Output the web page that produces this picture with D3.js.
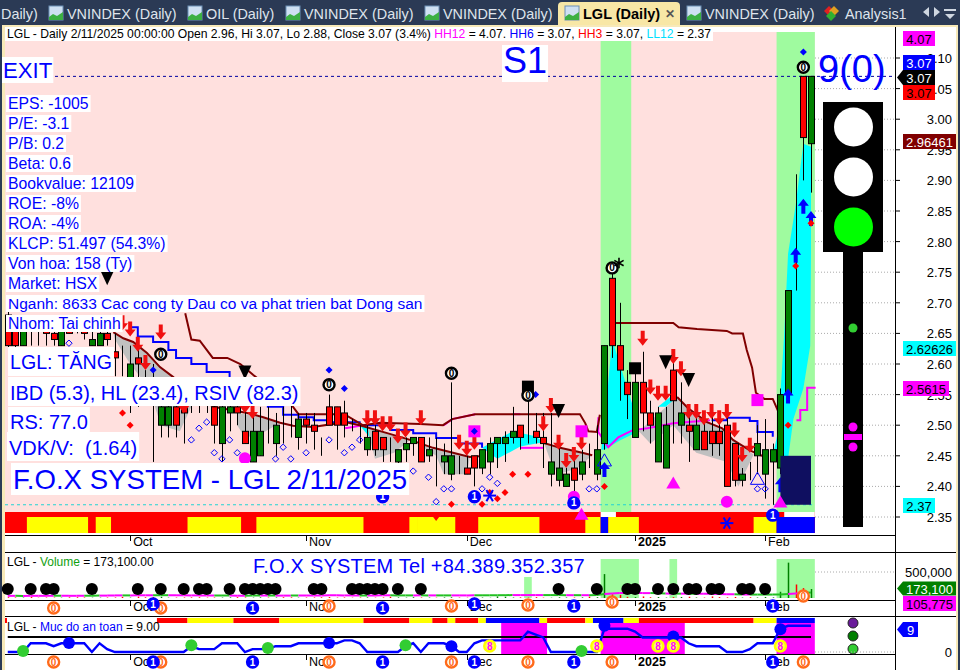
<!DOCTYPE html>
<html><head><meta charset="utf-8">
<style>html,body{margin:0;padding:0;background:#2b3a55;overflow:hidden}svg{display:block}text{font-family:"Liberation Sans",Arial,sans-serif;white-space:pre}</style>
<script src="https://cdn.jsdelivr.net/npm/d3@7"></script></head><body><svg id="c" width="960" height="670"></svg>
<script>
// ---- candles (oldest to newest)
const opens=[2.68,2.67,2.63,2.65,2.65,2.66,2.65,2.63,2.66,2.66,2.66,2.63,2.63,2.65,2.62,2.62,2.54,2.61,2.57,2.58,2.50,2.50,2.53,2.53,2.53,2.53,2.53,2.53,2.47,2.52,2.53,2.49,2.44,2.45,2.49,2.47,2.49,2.51,2.48,2.51,2.50,2.47,2.53,2.53,2.52,2.50,2.49,2.46,2.49,2.48,2.46,2.44,2.46,2.47,2.48,2.45,2.46,2.44,2.42,2.44,2.43,2.45,2.43,2.44,2.47,2.47,2.48,2.50,2.50,2.49,2.48,2.42,2.41,2.40,2.43,2.42,2.45,2.42,2.47,2.74,2.63,2.57,2.48,2.57,2.52,2.44,2.43,2.59,2.50,2.50,2.46,2.49,2.49,2.49,2.50,2.47,2.41,2.44,2.45,2.42,2.44,2.43,2.55,2.91,3.07,2.96];
const highs=[2.70,2.68,2.68,2.68,2.68,2.67,2.68,2.67,2.68,2.67,2.68,2.66,2.67,2.67,2.65,2.63,2.63,2.63,2.59,2.60,2.55,2.54,2.57,2.55,2.54,2.54,2.54,2.55,2.54,2.54,2.54,2.53,2.53,2.53,2.53,2.52,2.53,2.54,2.52,2.52,2.52,2.48,2.55,2.53,2.54,2.51,2.50,2.50,2.50,2.48,2.48,2.46,2.48,2.48,2.48,2.48,2.48,2.47,2.57,2.45,2.45,2.45,2.46,2.48,2.48,2.49,2.53,2.50,2.55,2.52,2.52,2.52,2.47,2.43,2.46,2.46,2.47,2.50,2.63,2.75,2.70,2.59,2.59,2.62,2.54,2.53,2.53,2.62,2.57,2.53,2.52,2.51,2.52,2.51,2.53,2.47,2.43,2.44,2.50,2.51,2.47,2.56,2.72,2.91,3.07,3.07];
const lows=[2.62,2.62,2.63,2.63,2.63,2.63,2.63,2.63,2.65,2.65,2.64,2.63,2.63,2.63,2.58,2.58,2.52,2.53,2.55,2.44,2.48,2.48,2.48,2.47,2.52,2.52,2.52,2.47,2.44,2.49,2.50,2.47,2.44,2.45,2.47,2.45,2.47,2.48,2.46,2.47,2.46,2.45,2.50,2.46,2.48,2.49,2.47,2.45,2.45,2.44,2.44,2.43,2.44,2.45,2.44,2.44,2.40,2.42,2.41,2.42,2.42,2.40,2.42,2.42,2.43,2.44,2.47,2.46,2.47,2.47,2.43,2.40,2.40,2.40,2.39,2.41,2.43,2.41,2.46,2.61,2.54,2.51,2.48,2.49,2.47,2.44,2.43,2.47,2.47,2.44,2.46,2.46,2.45,2.45,2.40,2.40,2.40,2.41,2.42,2.38,2.37,2.42,2.54,2.72,2.90,2.88];
const closes=[2.63,2.63,2.67,2.65,2.65,2.65,2.64,2.66,2.65,2.66,2.65,2.64,2.65,2.64,2.61,2.62,2.60,2.60,2.57,2.58,2.53,2.53,2.50,2.52,2.53,2.53,2.53,2.50,2.53,2.53,2.52,2.47,2.49,2.49,2.49,2.50,2.49,2.51,2.51,2.50,2.49,2.47,2.50,2.50,2.50,2.50,2.49,2.48,2.46,2.46,2.46,2.46,2.47,2.48,2.44,2.46,2.46,2.45,2.45,2.44,2.42,2.43,2.46,2.47,2.48,2.48,2.49,2.48,2.50,2.48,2.47,2.44,2.43,2.42,2.41,2.44,2.45,2.46,2.63,2.63,2.59,2.55,2.57,2.52,2.50,2.52,2.50,2.54,2.52,2.49,2.50,2.46,2.47,2.47,2.40,2.41,2.42,2.44,2.47,2.46,2.46,2.55,2.72,2.91,2.97,3.07];
// ---- volume (thousands) and its moving average
const volumes=[14,10,8,18,6,9,8,7,12,14,10,6,7,9,10,22,8,26,14,20,24,7,8,10,12,14,8,9,8,12,16,10,7,12,8,10,14,12,7,9,10,14,18,8,10,6,9,12,7,10,24,12,8,15,10,9,6,11,14,8,6,8,9,5,30,24,9,12,8,16,7,6,14,10,9,12,26,16,460,70,60,22,18,30,14,18,8,16,20,24,10,8,30,16,12,20,8,14,10,20,12,120,680,260,190,173];
const volumeAverage=[42,42,40,42,42,42,44,44,42,42,44,44,46,46,50,50,50,52,52,52,54,54,52,52,50,50,48,48,48,46,44,44,46,48,48,46,46,46,48,48,48,50,54,52,50,50,48,48,50,52,52,50,50,50,52,50,50,50,50,50,50,52,52,52,54,54,56,56,56,56,56,56,56,54,54,54,54,56,78,86,96,96,96,94,94,92,86,84,84,84,82,82,80,78,72,70,68,66,66,66,66,68,76,86,96,106];
const volumeDotBars=[0,3,5,6,11,17,20,23,25,26,29,31,32,33,34,35,40,41,45,46,47,48,49,51,54,72,77,81,82,85,87,89,90,92,93,96,97,99];
const volumeZones=[[68,68,404],[78,82,750],[87,87,750],[101,105,750]];
const safety=[0,0,0,3,3,3,2,3,3,3,3,0,3,1,0,0,0,0,0,0,0,0,0,0,2,1,1,1,3,3,3,0,1,1,1,2,2,2,3,3,3,3,3,3,4,4,3,0,0,0,0,0,2,3,0,3,3,3,2,0,0,3,4,4,4,4,4,4,7,6,5,0,0,0,0,0,0,0,8,8,8,8,7,5,5,5,5,5,5,3,2,2,2,2,0,0,0,1,3,3,3,8,9,9,9,9];
const safetyGreen=[[2,0],[24,2],[34,1],[52,2],[75,0]];
const safetyBlue=[[8,3.1],[42,3.1],[58,2],[78,9],[87,5.3],[101,7.8]];
const safetyEights=[63,77,85,87,101];
// ---- strips: [first bar, last bar, kind]
const mainStrip=[[3,10,"Y"],[12,13,"Y"],[24,30,"Y"],[33,46,"Y"],[53,53,"Y"],[54,58,"Y"],[62,69,"Y"],[76,77,"Y"],[78,78,"B"],[79,82,"Y"],[98,100,"Y"],[101,105,"B"]];
const topClear=[[78,79],[102,105]];
const safetyStrip=[[20,23,"R"],[24,29,"Y"],[30,35,"R"],[36,46,"Y"],[47,52,"R"],[53,55,"Y"],[56,57,"R"],[58,58,"Y"],[59,61,"R"],[62,62,"Y"],[63,69,"B"],[70,70,"Y"],[71,75,"R"],[76,76,"Y"],[77,80,"B"],[81,82,"Y"],[83,97,"R"],[98,100,"Y"],[101,105,"B"]];
const safetyBands=[[65,70],[78,88],[101,105]];
const greenZones=[[78,81],[101,105]];
// ---- indicator lines: [bar, price]
const stopUpper=[[[23.2,2.683],[24,2.64],[25.1,2.638],[26.8,2.61],[28.7,2.61],[30.4,2.60],[32.1,2.582],[37.3,2.53],[38,2.518],[44,2.518],[46.4,2.50],[48.7,2.504],[53.9,2.502],[56.9,2.50],[58.1,2.51],[61.1,2.518],[74.8,2.518],[75.5,2.503],[75.9,2.49],[77,2.489],[77.4,2.517]],
 [[79.5,2.667],[87,2.667],[87.7,2.66],[90.1,2.657],[94,2.654],[94.7,2.65],[96.1,2.65],[96.6,2.623],[97.3,2.594],[97.8,2.553],[98.9,2.543],[100,2.543],[100.7,2.523]]];
const stopLower=[[[13.8,2.652],[15.1,2.642],[16.4,2.636],[18.2,2.618],[19.9,2.595],[21.6,2.579],[23.8,2.554],[26.9,2.53],[31.3,2.52],[33.4,2.513],[35.6,2.504],[37.3,2.499],[39.9,2.497],[44.1,2.505],[46,2.50],[49.6,2.487],[52.6,2.476],[55.6,2.463],[60.4,2.448],[62.4,2.45]],
 [[70.1,2.471],[72.2,2.463],[75.1,2.455],[76.4,2.451]],
 [[87.5,2.546],[88.9,2.528],[91.4,2.505],[93.4,2.495],[94.8,2.476],[97,2.459],[99.3,2.446]]];
const blueLine=[[[16,2.66],[17,2.645],[19,2.636],[21,2.623],[22,2.61],[24,2.60],[26,2.587],[29,2.577],[31,2.565],[33,2.545],[34,2.53],[36,2.517],[38,2.513],[40,2.508],[42,2.505],[46,2.50],[50,2.492],[53,2.487],[56,2.479],[59,2.47],[62,2.463]],
 [[92,2.508],[94,2.512],[97,2.507],[98,2.489],[100,2.481]]];
const magentaLine=[[[44.1,2.495],[45.1,2.497],[46.4,2.50]],[[57,2.50],[58.1,2.51],[61.1,2.518]],[[66,2.518],[67,2.518]],[[67,2.463],[70,2.463]],
 [[77.2,2.513],[77.2,2.489],[78.5,2.464],[79.8,2.48],[81.7,2.492],[83.6,2.495],[87,2.503],[91.8,2.508]],
 [[103.1,2.508],[103.6,2.508],[103.6,2.525],[104.5,2.525],[104.5,2.561],[105.6,2.561]]];
const cyanAreas=[[[77.6,2.46],[78,2.50],[79,2.64],[80,2.60],[81,2.56],[82,2.52],[82.5,2.49],[80,2.475],[78,2.46]],
 [[62,2.463],[63,2.47],[66,2.49],[69,2.482],[70,2.472],[67,2.465],[64,2.445]],
 [[85,2.53],[87,2.55],[87.5,2.545],[86,2.53]],[[46,2.50],[48,2.47],[47,2.50]],
 [[100,2.45],[100.7,2.49],[101.5,2.65],[102,2.78],[103,2.86],[104,2.96],[105,2.955],[105,2.78],[104.9,2.63],[104,2.56],[102.7,2.51],[102,2.445]]];
const grayAreas=[[[13.8,2.652],[15.1,2.642],[16.4,2.636],[18.2,2.618],[19.9,2.595],[21.6,2.579],[23.8,2.554],[24,2.53],[22.5,2.49],[20,2.50],[18.5,2.56],[16,2.60],[14,2.64]],
 [[30,2.52],[33.4,2.513],[35.6,2.504],[33,2.485],[31,2.48],[30,2.50]],
 [[47,2.498],[49.6,2.487],[52.6,2.476],[50.5,2.455],[48,2.445],[47.5,2.47]],
 [[53.5,2.47],[55.6,2.463],[60.4,2.448],[60,2.42],[57,2.42],[56,2.45]],
 [[70.1,2.471],[72.2,2.463],[75.1,2.455],[76.4,2.451],[74.5,2.43],[72,2.42],[71,2.44]],
 [[82.5,2.49],[87.5,2.546],[88.9,2.528],[91.4,2.505],[93.4,2.495],[94.8,2.476],[97.5,2.452],[95.5,2.40],[94,2.44],[90,2.455],[87,2.50],[84,2.47]]];
// ---- markers: [bar, price]
const downArrows=[[15,2.655],[16,2.645],[17,2.62],[18,2.59],[20,2.64],[22,2.55],[23,2.52],[31,2.52],[32,2.51],[47,2.50],[48,2.50],[49,2.49],[50,2.49],[51,2.47],[52,2.48],[54,2.50],[59,2.46],[60,2.45],[61,2.46],[70,2.49],[71,2.52],[72,2.46],[73,2.43],[74,2.44],[75,2.46],[83,2.63],[84,2.55],[85,2.54],[86,2.54],[87,2.60],[88,2.58],[89,2.51],[90,2.51],[91,2.50],[92,2.51],[93,2.50],[94,2.51],[95,2.48],[96,2.44],[97,2.455]];
const upArrows=[[78,2.44],[101,2.415],[102,2.56],[103,2.79],[104,2.87],[105,2.85]];
const hollowTriangles=[[78,2.44],[98,2.41]];
const redDiamonds=[[15,2.52],[16,2.50],[58,2.371],[62,2.371],[63,2.39],[64,2.38],[65,2.39],[66,2.42],[68,2.42],[78,2.40],[103,2.76],[102,2.50],[105,2.83]];
const blueDiamonds=[[42,2.59],[44,2.56],[69,2.55],[19,2.59],[104,3.11]];
const blueOverSquare=[[61,2.49]];
const hollowDiamonds=[[8,2.634],[24,2.476],[25,2.495],[26,2.505],[27,2.455],[28,2.445],[29,2.476],[30,2.455],[35,2.445],[36,2.464],[37,2.445],[39,2.455],[42,2.476],[44,2.455],[45,2.464],[46,2.476],[53,2.425],[55,2.415],[57,2.396],[58,2.396],[56,2.375],[62,2.396],[63,2.415],[64,2.405],[76,2.396],[77,2.396],[98,2.396],[99,2.396]];
const ringMarks=[[42,2.566],[58,2.585],[20,2.616],[68,2.549],[79,2.757],[104,3.085]];
const blackDown=[[13,2.74],[31,2.586],[72,2.523],[86,2.603],[89,2.574]];
const blackSquares=[[68,2.563],[82,2.593]];
const magentaSquares=[[61,2.49],[75,2.49],[98,2.541]];
const magentaTriangles=[[87,2.403],[75,2.352]];
const magentaCircles=[[31,2.446],[74,2.383],[94,2.375]];
const blueOnes=[[61,2.383],[74,2.373],[49,2.383],[100,2.353]];
const flakes=[[63,2.385],[94,2.34]];
// ---- axis labels
const priceTicks=[3.10,3.05,3.00,2.95,2.90,2.85,2.80,2.75,2.70,2.65,2.60,2.55,2.50,2.45,2.40,2.35];
const monthBars=[16,39,60,82,99];
const monthLabels=["Oct","Nov","Dec","2025","Feb"];
const orangeZeroBars=[6,20,42,58,68,79,104];
const orangeZeroDrop=[3,3,1,1,0,-3,-9];
const blueOneBars=[19,32,49,61,74,100];
const blueOneDrop=[-1,3,3,-1,1,1];
const tabs=[["Daily)",1,false],["VNINDEX (Daily)",67,true],["OIL (Daily)",206,true],["VNINDEX (Daily)",304,true],["VNINDEX (Daily)",443,true],["LGL (Daily)",583,true],["VNINDEX (Daily)",705,true]];
const infoLines=["EPS: -1005","P/E: -3.1","P/B: 0.2","Beta: 0.6","Bookvalue: 12109","ROE: -8%","ROA: -4%","KLCP: 51.497 (54.3%)","Von hoa: 158 (Ty)","Market: HSX","Nganh: 8633 Cac cong ty Dau co va phat trien bat Dong san","Nhom: Tai chinh"];

const svg=d3.select("#c");
const x=d3.scaleLinear().domain([0,105]).range([7.75,811]);
const y=d3.scaleLinear().domain([2.35,3.10]).range([517,58]);
const yVol=d3.scaleLinear().domain([0,500]).range([598,572]);
const yS=d3.scaleLinear().domain([0,9]).range([652,625.8]);
const barW=x(1)-x(0);
const L=(sel,col,w)=>sel.attr("fill","none").attr("stroke",col).attr("stroke-width",w);

// window frame
svg.append("rect").attr("width",960).attr("height",670).attr("fill","#2b3a55");
svg.append("rect").attr("x",2).attr("y",25).attr("width",956).attr("height",645).attr("fill","#f7e9b8");
svg.append("rect").attr("x",5).attr("y",27).attr("width",951).attr("height",643).attr("fill","#fff");
// tabs
const tabG=svg.append("g");
tabG.append("path").attr("d","M558,25V6Q558,2 562,2H676Q680,2 680,6V25Z").attr("fill","#f8e7a6");
tabs.forEach(t=>{
  const act=t[0]==="LGL (Daily)";
  if(t[2]){tabG.append("rect").attr("x",t[1]-18).attr("y",6).attr("width",14).attr("height",14).attr("fill","#cfe0f2").attr("stroke","#6d8fb5");
    tabG.append("path").attr("d",d3.area().x(d=>t[1]-18+d[0]).y0(20).y1(d=>d[1])([[0,17],[4,14],[8,16],[14,12]])).attr("fill","#3cb043");}
  tabG.append("text").attr("x",t[1]).attr("y",19).attr("font-size",act?14.5:14.4).attr("font-weight",act?"bold":"normal").attr("fill",act?"#000":"#dfe4ec").text(t[0]);
});
[[829,"#e02020"],[834,"#e0a020"],[831,"#30b030"]].forEach((c,i)=>tabG.append("path").attr("transform",`translate(${c[0]},${i==2?16:11})`).attr("d","M0,-5L5,0L0,5L-5,0Z").attr("fill",c[1]));
tabG.append("text").attr("x",845).attr("y",19).attr("font-size",14.4).attr("fill","#dfe4ec").text("Analysis1");
tabG.append("text").attr("x",665).attr("y",18).attr("font-size",12).attr("font-weight","bold").attr("fill","#555").text("✕");
["M929,7L923,12L929,17Z","M934,7L940,12L934,17Z","M944,9H956V11H944ZM945,14H955L950,19Z"].forEach(p=>tabG.append("path").attr("d",p).attr("fill","#cfd6e0"));

// main background
svg.append("rect").attr("x",5).attr("y",32).attr("width",810).attr("height",480).attr("fill","#ffe0de");
// grid
svg.append("g").selectAll("line").data(priceTicks).join("line").attr("x1",815).attr("x2",895).attr("y1",d=>y(d)).attr("y2",d=>y(d)).attr("stroke","#aaa").attr("stroke-dasharray","1,2");
// green zones
const zx0=i=>x(i)-barW/2, zx1=i=>x(i)+barW/2;
svg.append("g").selectAll("rect").data(greenZones).join("rect").attr("x",d=>zx0(d[0])).attr("width",d=>zx1(d[1])-zx0(d[0])).attr("y",32).attr("height",480).attr("fill","#9ffb9f");

const path=d3.line().x(d=>x(d[0])).y(d=>y(d[1]));
svg.append("g").selectAll("path").data(cyanAreas).join("path").attr("d",d=>path(d)+"Z").attr("fill","#00ffff");
svg.append("g").selectAll("path").data(grayAreas).join("path").attr("d",d=>path(d)+"Z").attr("fill","#c0c0c0");

// reference lines
svg.append("line").attr("x1",55).attr("x2",895).attr("y1",y(3.07)).attr("y2",y(3.07)).attr("stroke","#0000a0").attr("stroke-dasharray","3,3");
svg.append("line").attr("x1",5).attr("x2",815).attr("y1",y(2.37)).attr("y2",y(2.37)).attr("stroke","#22d3d3").attr("stroke-dasharray","3,3");

// bottom strip
const sc={Y:"#ffff00",B:"#0000ff",R:"#ff0000"};
const strip=svg.append("g");
strip.append("rect").attr("x",5).attr("y",512).attr("width",810).attr("height",21).attr("fill","#ff0000");
strip.selectAll("rect.s").data(mainStrip).join("rect").attr("class","s").attr("x",d=>zx0(d[0])).attr("width",d=>zx1(d[1])-zx0(d[0])).attr("y",517).attr("height",16).attr("fill",d=>sc[d[2]]);
strip.selectAll("rect.w").data(topClear).join("rect").attr("class","w").attr("x",d=>zx0(d[0])).attr("width",d=>zx1(d[1])-zx0(d[0])).attr("y",512).attr("height",5).attr("fill","#fff");
strip.append("path").attr("transform",`translate(${x(56)},${y(2.34)})`).attr("d","M-3,-6H3L0,-2Z").attr("fill","#ff0000");

// indicator lines
const lineG=svg.append("g");
blueLine.forEach(s=>lineG.append("path").attr("d",d3.line().curve(d3.curveStepAfter).x(d=>x(d[0])).y(d=>y(d[1]))(s)).call(L,"#0000ff",2));
magentaLine.forEach(s=>lineG.append("path").attr("d",path(s)).call(L,"#ff00ff",2));
stopUpper.forEach(s=>lineG.append("path").attr("d",path(s)).call(L,"#800000",2));
stopLower.forEach(s=>lineG.append("path").attr("d",path(s)).call(L,"#800000",2));

// candles
const cG=svg.append("g").selectAll("g").data(d3.range(opens.length)).join("g");
cG.append("line").attr("x1",i=>Math.round(x(i))+.5).attr("x2",i=>Math.round(x(i))+.5).attr("y1",i=>y(highs[i])).attr("y2",i=>y(lows[i])).attr("stroke","#000");
cG.append("rect").attr("x",i=>Math.round(x(i))-2.5).attr("width",6)
 .attr("y",i=>y(Math.max(opens[i],closes[i]))).attr("height",i=>Math.abs(y(opens[i])-y(closes[i])))
 .attr("fill",i=>closes[i]>opens[i]?"#008000":"#ff0000").attr("stroke","#000");

// markers
const px=d=>x(d[0]), py=d=>y(d[1]);
const sym=(data,type,size,fill,stroke)=>svg.append("g").selectAll("path").data(data).join("path")
  .attr("d",d3.symbol().type(type).size(size)).attr("transform",d=>`translate(${px(d)},${py(d)})`)
  .attr("fill",fill).attr("stroke",stroke||"none");
const diamond=(data,r,fill,stroke)=>svg.append("g").selectAll("path").data(data).join("path").attr("transform",d=>`translate(${px(d)},${py(d)})`)
  .attr("d",`M0,${-r}L${r},0L0,${r}L${-r},0Z`).attr("fill",fill).attr("stroke",stroke||"none");
svg.append("g").selectAll("path").data(downArrows).join("path").attr("transform",d=>`translate(${px(d)},${py(d)})`)
  .attr("d",d3.line()([[0,0],[-5.5,-7],[-2,-7],[-2,-15],[2,-15],[2,-7],[5.5,-7]])+"Z").attr("fill","#f01010");
svg.append("g").selectAll("path").data(upArrows).join("path").attr("transform",d=>`translate(${px(d)},${py(d)})`)
  .attr("d",d3.line()([[0,0],[-5.5,7],[-2,7],[-2,15],[2,15],[2,7],[5.5,7]])+"Z").attr("fill","#0000ff");
sym(hollowTriangles,d3.symbolTriangle,85,"none","#0000ff");
diamond(redDiamonds,3.5,"#ff0000");
diamond(blueDiamonds,3.5,"#0000ff");
diamond(hollowDiamonds,3.2,"none","#0000ff");
sym(magentaCircles,d3.symbolCircle,113,"#ff00ff");
svg.append("g").selectAll("rect").data(magentaSquares).join("rect").attr("x",d=>px(d)-6).attr("y",d=>py(d)-6).attr("width",12).attr("height",12).attr("fill","#ff00ff");
diamond(blueOverSquare,3.5,"#0000ff");
svg.append("g").selectAll("rect").data(blackSquares).join("rect").attr("x",d=>px(d)-6).attr("y",d=>py(d)-6).attr("width",12).attr("height",12).attr("fill","#000");
svg.append("g").selectAll("path").data(blackDown).join("path").attr("transform",d=>`translate(${px(d)},${py(d)})`).attr("d","M-6.5,-7L6.5,-7L0,7Z").attr("fill","#000");
sym(magentaTriangles,d3.symbolTriangle,85,"#ff00ff");
const ring=(g,cx,cy,col,txt,fill,r=5.5,tc)=>{g.append("circle").attr("cx",cx).attr("cy",cy).attr("r",r).attr("fill",fill).attr("stroke",col).attr("stroke-width",2.4);
  g.append("text").attr("x",cx).attr("y",cy+3.5).attr("text-anchor","middle").attr("font-size",10).attr("font-weight","bold").attr("fill",tc||col).text(txt);};
const mk=svg.append("g");
ringMarks.forEach(d=>ring(mk,px(d),py(d),"#000","0","#fff"));
blueOnes.forEach(d=>ring(mk,px(d),py(d),"#0000ff","1","#0000ff",5.5,"#fff"));
mk.append("path").attr("d",d3.symbol().type(d3.symbolAsterisk).size(80)).attr("transform",`translate(${x(79.9)},${y(2.765)})`).attr("fill","none").attr("stroke","#000").attr("stroke-width",1.6);
flakes.forEach(f=>[0,60,120].forEach(a=>mk.append("line").attr("x1",-6.5).attr("x2",6.5).attr("transform",`translate(${x(f[0])},${y(f[1])}) rotate(${a})`).attr("stroke","#0000ff").attr("stroke-width",2)));
// navy box
svg.append("rect").attr("x",x(101)).attr("width",x(105)-x(101)).attr("y",y(2.45)).attr("height",y(2.37)-y(2.45)).attr("fill","#0f0f60");
sym([[101,2.372]],d3.symbolTriangle,85,"#ff00ff");

// axes frame
const fr=svg.append("g").attr("stroke","#000");
[[535,895],[552,956],[600,895],[616,956],[654,895]].forEach(v=>fr.append("line").attr("x1",5).attr("x2",v[1]).attr("y1",v[0]+.5).attr("y2",v[0]+.5));
fr.append("line").attr("x1",895.5).attr("x2",895.5).attr("y1",27).attr("y2",670);
fr.selectAll("line.t").data(priceTicks).join("line").attr("class","t").attr("x1",895).attr("x2",900).attr("y1",d=>y(d)).attr("y2",d=>y(d));
[535,600,654].forEach(v=>fr.selectAll(null).data(monthBars).join("line").attr("x1",d=>Math.round(x(d))+.5).attr("x2",d=>Math.round(x(d))+.5).attr("y1",v).attr("y2",v+6));
svg.append("g").selectAll("text").data(priceTicks).join("text").attr("x",952).attr("y",d=>y(d)+5).attr("text-anchor","end").attr("font-size",13).attr("fill","#000").text(d=>d.toFixed(2));
[546,611,666].forEach(v=>svg.append("g").selectAll("text").data(monthLabels).join("text").attr("x",(d,i)=>x(monthBars[i])+3).attr("y",v).attr("font-size",12.5).attr("font-weight",d=>d==="2025"?"bold":"normal").text(d=>d));

// title legend
svg.append("rect").attr("x",5).attr("y",27).attr("width",708).attr("height",14).attr("fill","#fff");
const lt=svg.append("text").attr("x",7).attr("y",38).attr("font-size",12.15);
[["LGL - Daily 2/11/2025 00:00:00 Open 2.96, Hi 3.07, Lo 2.88, Close 3.07 (3.4%) ","#000"],["HH12","#ff00ff"],[" = 4.07. ","#000"],["HH6","#0000ff"],[" = 3.07, ","#000"],["HH3","#ff0000"],[" = 3.07, ","#000"],["LL12","#00e0ff"],[" = 2.37","#000"]]
 .forEach(p=>lt.append("tspan").attr("fill",p[1]).text(p[0]));

// info labels with white backing: text, left, baseline, size, box top, box bottom
const label=(txt,lx,base,fs,top,bot,pad=2)=>{const g=svg.append("g");
  const t=g.append("text").attr("x",lx).attr("y",base).attr("font-size",fs).attr("fill","#0000ff").text(txt);
  const r=t.node().getComputedTextLength();
  g.insert("rect","text").attr("x",lx-pad).attr("y",top).attr("width",r+pad*2).attr("height",bot-top).attr("fill","#fff");};
label("EXIT",3,78,22.2,57,83,1);
label("S1",503,73,36,45,82,1);
infoLines.forEach((t,i)=>label(t,8,109+20*i,i==10?15.5:15.75,95+20*i,112+20*i));
label("LGL: TĂNG",10,369,19.6,347,376);
label("IBD (5.3), HL (23.4), RSIV (82.3)",10,400,19.95,377,406);
label("RS: 77.0",10,429,20,407,432);
label("VDK/V:  (1.64)",9,455,20,432,461);
label("F.O.X SYSTEM - LGL 2/11/2025",13,489,27.6,463,495);
svg.append("text").attr("x",818).attr("y",82).attr("font-size",38).attr("fill","#0000ff").text("9(0)");

// traffic light
const tl=svg.append("g");
tl.append("rect").attr("x",843).attr("y",252).attr("width",20).attr("height",275).attr("fill","#000");
tl.append("rect").attr("x",823).attr("y",102).attr("width",60).attr("height",150).attr("fill","#000");
[[127,"#fff"],[177,"#fff"],[227,"#00ff00"]].forEach(c=>tl.append("circle").attr("cx",853.5).attr("cy",c[0]).attr("r",19.5).attr("fill",c[1]));
tl.append("circle").attr("cx",853).attr("cy",328).attr("r",4.5).attr("fill","#32cd32");
tl.append("circle").attr("cx",853).attr("cy",427).attr("r",4.5).attr("fill","#ff00ff");
tl.append("circle").attr("cx",853).attr("cy",447).attr("r",4.5).attr("fill","#ff00ff");
tl.append("rect").attr("x",844).attr("y",434).attr("width",18).attr("height",6).attr("fill","#ff00ff");

// price tags
const tag=(txt,yy,x0,w,h,bg,fg,arrow)=>{const g=svg.append("g");
  g.append("path").attr("d",arrow?`M${x0-6},${yy}L${x0},${yy-h/2}L${x0+w},${yy-h/2}L${x0+w},${yy+h/2}L${x0},${yy+h/2}Z`:`M${x0},${yy-h/2}h${w}v${h}h${-w}Z`).attr("fill",bg);
  g.append("text").attr("x",x0+w/2).attr("y",yy+5).attr("text-anchor","middle").attr("font-size",13).attr("fill",fg).text(txt);};
tag("4.07",38.5,903,32,15,"#ff00ff","#000");
tag("3.07",62.5,903,32,15,"#0000ff","#fff");
tag("3.07",77.5,903,32,15,"#000","#fff",true);
tag("3.07",92.5,903,32,15,"#ff0000","#000");
tag("2.96461",141.5,903,53,15,"#800000","#fff");
tag("2.62626",348.5,903,53,15,"#00ffff","#000");
tag("2.5615",388.5,903,46,15,"#ff00ff","#000");
tag("2.37",505.5,903,32,15,"#00ffff","#000");

// volume panel
const v=svg.append("g");
v.selectAll("rect.z").data(volumeZones).join("rect").attr("class","z").attr("x",d=>zx0(d[0])).attr("width",d=>zx1(d[1])-zx0(d[0])).attr("y",d=>yVol(d[2])).attr("height",d=>yVol(0)-yVol(d[2])).attr("fill","#9ffb9f");
v.selectAll("line.b").data(volumes).join("line").attr("class","b").attr("x1",(d,i)=>Math.round(x(i))+.5).attr("x2",(d,i)=>Math.round(x(i))+.5).attr("y1",yVol(0)).attr("y2",d=>yVol(d)).attr("stroke",(d,i)=>closes[i]>opens[i]?"#008000":"#ff0000").attr("stroke-width",1.5);
v.selectAll("line.m").data(volumeAverage.slice(1)).join("line").attr("class","m").attr("x1",(d,i)=>x(i)).attr("x2",(d,i)=>x(i+1)).attr("y1",(d,i)=>yVol(volumeAverage[i])).attr("y2",d=>yVol(d)).attr("stroke",(d,i)=>closes[i+1]>opens[i+1]?"#22c022":"#ff00ff").attr("stroke-width",2);
v.selectAll("circle").data(volumeDotBars).join("circle").attr("cx",d=>x(d)).attr("cy",589).attr("r",6).attr("fill","#000");
svg.append("text").attr("x",7).attr("y",566).attr("font-size",12).html('LGL - <tspan fill="#10a010">Volume</tspan> = 173,100.00');
svg.append("text").attr("x",253).attr("y",573).attr("font-size",20).attr("fill","#0000ff").attr("letter-spacing",.22).text("F.O.X SYSTEM Tel +84.389.352.357");
svg.append("line").attr("x1",815).attr("x2",895).attr("y1",yVol(500)).attr("y2",yVol(500)).attr("stroke","#aaa").attr("stroke-dasharray","1,2");
svg.append("text").attr("x",952).attr("y",577).attr("text-anchor","end").attr("font-size",13).text("500,000");
tag("173,100",588.5,903,53,14,"#008000","#fff",true);
tag("105,775",603.5,903,53,15,"#ff00ff","#000");

// safety panel
const s=svg.append("g");
s.selectAll("rect.b").data(safetyBands).join("rect").attr("class","b").attr("x",d=>zx0(d[0])).attr("width",d=>zx1(d[1])-zx0(d[0])).attr("y",623).attr("height",31).attr("fill","#ff00ff");
s.selectAll("rect.s").data(safetyStrip).join("rect").attr("class","s").attr("x",d=>zx0(d[0])).attr("width",d=>zx1(d[1])-zx0(d[0])).attr("y",618).attr("height",5).attr("fill",d=>sc[d[2]]);
s.append("line").attr("x1",x(0)).attr("x2",x(105)).attr("y1",637).attr("y2",637).attr("stroke","#000").attr("stroke-width",2);
s.append("path").attr("d",d3.line().x((d,i)=>x(i)).y(d=>yS(d))(safety)).call(L,"#0000ff",2.4);
safetyGreen.forEach(d=>s.append("circle").attr("cx",x(d[0])).attr("cy",yS(d[1])-1).attr("r",6).attr("fill","#32cd32"));
safetyBlue.forEach(d=>s.append("circle").attr("cx",x(d[0])).attr("cy",yS(d[1])).attr("r",6).attr("fill","#0000ff"));
safetyEights.forEach(i=>ring(s,x(i),646,"#ffff00","8","#ffff60",5.5,"#ff00ff"));
svg.append("rect").attr("x",5).attr("y",618).attr("width",2).attr("height",5).attr("fill","#f00");
svg.append("text").attr("x",7).attr("y",631).attr("font-size",12).html('LGL - <tspan fill="#0000ff">Muc do an toan</tspan> = 9.00');
[["#6a1b9a",623],["#008000",636],["#32cd32",649]].forEach(c=>s.append("circle").attr("cx",853).attr("cy",c[1]).attr("r",5).attr("fill",c[0]).attr("stroke","#222"));
svg.append("line").attr("x1",815).attr("x2",895).attr("y1",652).attr("y2",652).attr("stroke","#aaa").attr("stroke-dasharray","1,2");
tag("9",629.5,903,15,15,"#0000ff","#fff",true);
svg.append("text").attr("x",952).attr("y",657).attr("text-anchor","end").attr("font-size",13).text("0");
// 0/1 badges below panels
[[605,1],[662,0]].forEach(st=>{
 orangeZeroBars.forEach((i,k)=>ring(svg.append("g"),x(i),st[0]+st[1]*orangeZeroDrop[k],"#ff6a1a","0","#fff",5.5));
 blueOneBars.forEach((i,k)=>ring(svg.append("g"),x(i),st[0]+st[1]*blueOneDrop[k],"#0000ff","1","#0000ff",5.5,"#fff"));
});
</script></body></html>
